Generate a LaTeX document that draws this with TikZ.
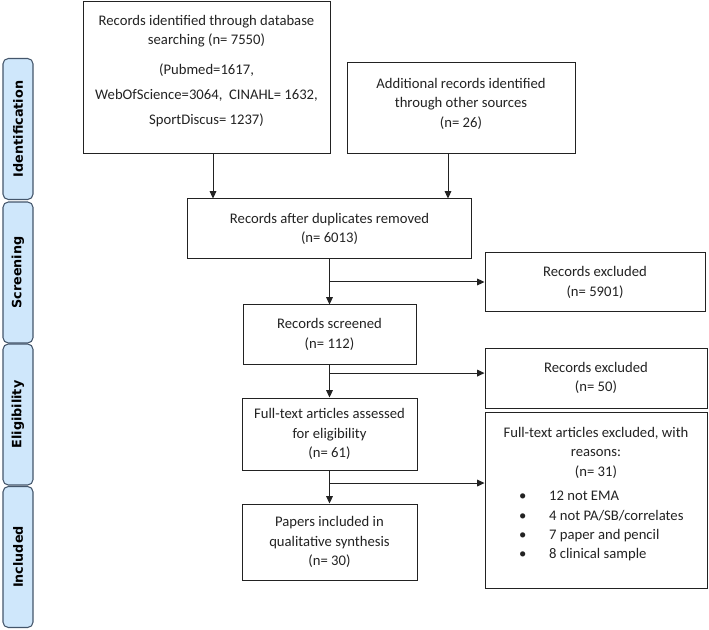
\documentclass[tikz,border=0pt]{standalone}
\usepackage{fontspec}
\setmainfont{Carlito}
\newfontfamily\barfont{DejaVu Sans}
\usetikzlibrary{arrows.meta,calc,positioning}
\definecolor{barfill}{HTML}{CFE7FB}
\definecolor{barline}{HTML}{44566B}
\definecolor{ink}{HTML}{222222}

\begin{document}
\begin{tikzpicture}[
	x=0.75pt, y=-0.75pt,
	box/.style={draw=ink, line width=0.75pt, rectangle, align=center, inner sep=2pt, text=ink, font=\fontsize{11}{14.5}\selectfont},
	phase/.style={draw=barline, fill=barfill, line width=0.8pt, rounded corners=4pt, rotate=90, minimum width=105.75pt, minimum height=22.5pt, inner sep=0pt, text=black, font=\barfont\bfseries\fontsize{9.6}{11}\selectfont},
	>={Triangle[length=5.5pt,width=5pt]}
	]
	\useasboundingbox (0,0) rectangle (709,630);
	
	%-----------------------
	% Column positions
	%-----------------------
	\def\xmain{329.5}  % main column
	\def\xside{596}    % exclusion column
	
	%-----------------------
	% Phase bars
	%-----------------------
	\node[phase] (P-1) at (18,129)   {Identification};
	\node[phase] (P-2) at (18,272.5) {Screening};
	\node[phase] (P-3) at (18,414.5) {Eligibility};
	\node[phase] (P-4) at (18,557)   {Included};
	
	%-----------------------
	% Identification
	%-----------------------
	\node[box, minimum width=185.25pt, minimum height=114pt] (db) at (206.5,78)
		{Records identified through database\\ searching (n= 7550)\\[8pt] (Pubmed=1617,\\[4pt] WebOfScience=3064,\ \ CINAHL= 1632,\\[4pt] SportDiscus= 1237)\\[-2pt]\mbox{}};
	\node[box, minimum width=171pt, minimum height=68.25pt] (add) at (461,108.5)
		{Additional records identified\\ through other sources\\ (n= 26)\\[-6pt]\mbox{}};
	
	%-----------------------
	% Screening
	%-----------------------
	\node[box, minimum width=213pt, minimum height=45pt] (dup) at (\xmain,229)
		{Records after duplicates removed\\ (n= 6013)};
	\node[box, minimum width=165pt, minimum height=44.25pt] (excl1) at (595,282.5)
		{Records excluded\\ (n= 5901)};
	\node[box, minimum width=129.75pt, minimum height=44.25pt] (scr) at (\xmain,334.5)
		{Records screened\\ (n= 112)};
	
	%-----------------------
	% Eligibility
	%-----------------------
	\node[box, minimum width=166.5pt, minimum height=45pt] (excl2) at (\xside,378)
		{Records excluded\\ (n= 50)};
	\node[box, minimum width=131.25pt, minimum height=54pt] (ft) at (\xmain,434)
		{Full-text articles assessed\\ for eligibility\\ (n= 61)};
	\node[box, minimum width=166.5pt, minimum height=132pt] (excl3) at (\xside,500)
		{Full-text articles excluded, with\\ reasons:\\ (n= 31)\\[6pt]
		\hspace*{8pt}\begin{tabular}{@{}l@{\hspace{17pt}}l@{}}
			\textbullet & 12 not EMA\\
			\textbullet & 4 not PA/SB/correlates\\
			\textbullet & 7 paper and pencil\\
			\textbullet & 8 clinical sample
		\end{tabular}\\[5pt]\mbox{}};
	
	%-----------------------
	% Included
	%-----------------------
	\node[box, minimum width=131.25pt, minimum height=57pt] (inc) at (\xmain,542)
		{Papers included in\\ qualitative synthesis\\ (n= 30)};
	
	%-----------------------
	% Connections
	%-----------------------
	\tikzset{connect/.style={->, draw=ink, line width=0.75pt}}
	
	% sources -> duplicates removed
	\coordinate (inL) at ($(dup.north west)+(26,0)$);
	\coordinate (inR) at ($(dup.north east)+(-24,0)$);
	\draw[connect] (db.south -| inL) -- (inL);
	\draw[connect] (add.south -| inR) -- (inR);
	
	% main column (downwards)
	\draw[connect] (dup.south) -- (scr.north);
	\draw[connect] (scr.south) -- (ft.north);
	\draw[connect] (ft.south) -- (inc.north);
	
	% branches to the exclusions
	\coordinate (b1) at ($(dup.south)!0.5!(scr.north)$);
	\coordinate (b2) at ($(scr.south)!0.26!(ft.north)$);
	\coordinate (b3) at ($(ft.south)!0.38!(inc.north)$);
	\draw[connect] (b1) -- (b1 -| excl1.west);
	\draw[connect] (b2) -- (b2 -| excl2.west);
	\draw[connect] (b3) -- (b3 -| excl3.west);
	
\end{tikzpicture}
\end{document}
